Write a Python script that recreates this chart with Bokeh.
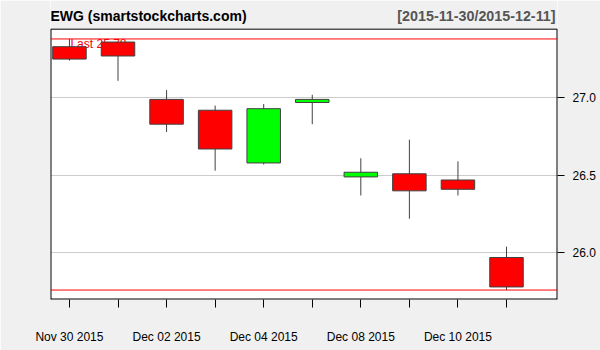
from bokeh.plotting import figure
from bokeh.models import (Range1d, LinearAxis, FixedTicker, Span, ColumnDataSource,
                          PrintfTickFormatter, Grid)
from bokeh.core.properties import value
from bokeh.embed import file_html
from bokeh.resources import INLINE

# ---- data ----
dates = ["2015-11-30", "2015-12-01", "2015-12-02", "2015-12-03", "2015-12-04",
         "2015-12-07", "2015-12-08", "2015-12-09", "2015-12-10", "2015-12-11"]
opens = [27.33, 27.36, 26.99, 26.92, 26.58, 26.97, 26.49, 26.51, 26.47, 25.97]
highs = [27.38, 27.36, 27.05, 26.95, 26.96, 27.02, 26.61, 26.73, 26.59, 26.04]
lows = [27.24, 27.11, 26.78, 26.53, 26.57, 26.83, 26.37, 26.22, 26.37, 25.76]
closes = [27.25, 27.27, 26.83, 26.67, 26.93, 26.99, 26.52, 26.40, 26.41, 25.78]
x_tick_labels = {0: "Nov 30 2015", 2: "Dec 02 2015", 4: "Dec 04 2015",
                 6: "Dec 08 2015", 8: "Dec 10 2015"}
y_ticks = [26.0, 26.5, 27.0]
title_left = "EWG (smartstockcharts.com)"
title_right = "[2015-11-30/2015-12-11]"

FONT = "Liberation Sans"
BG = "#F0F0F0"
x_start, x_end = -0.39, 10.05
y_start = 25.699          # bottom of the price box
y_box_top = 27.443        # top of the price box
y_frame_top = 27.628      # top of the drawing area (title band above the box)
y_title = 27.528          # vertical middle of the title texts

idx = list(range(len(dates)))
up = [c >= o for o, c in zip(opens, closes)]
src = ColumnDataSource(dict(
    x=idx,
    top=[max(o, c) for o, c in zip(opens, closes)],
    bottom=[min(o, c) for o, c in zip(opens, closes)],
    high=highs, low=lows,
    color=["#00FF00" if u else "#FF0000" for u in up],
))

p = figure(width=600, height=350, output_backend="svg", toolbar_location=None,
           x_range=Range1d(x_start, x_end), y_range=Range1d(y_start, y_frame_top),
           x_axis_location=None, y_axis_location=None,
           min_border_left=50, min_border_right=43, min_border_top=0, min_border_bottom=51)
p.border_fill_color = BG
p.background_fill_color = "white"
p.outline_line_color = None
p.xgrid.visible = False
p.ygrid.visible = False

# bottom axis
xa = LinearAxis(ticker=FixedTicker(ticks=idx),
                major_label_overrides={i: x_tick_labels.get(i, "") for i in idx})
xa.axis_line_color = None
xa.major_tick_out = 8
xa.major_tick_in = 0
xa.minor_tick_out = 0
xa.minor_tick_in = 0
xa.major_tick_line_color = "black"
xa.major_label_standoff = 22
xa.major_label_text_font = FONT
xa.major_label_text_font_size = "12px"
xa.major_label_text_color = "black"
p.add_layout(xa, "below")

# right axis
ya = LinearAxis(ticker=FixedTicker(ticks=y_ticks), formatter=PrintfTickFormatter(format="%.1f"))
ya.axis_line_color = None
ya.major_tick_out = 7
ya.major_tick_in = 0
ya.minor_tick_out = 0
ya.minor_tick_in = 0
ya.major_tick_line_color = "black"
ya.major_label_standoff = 8
ya.major_label_text_font = FONT
ya.major_label_text_font_size = "12px"
ya.major_label_text_color = "black"
p.add_layout(ya, "right")

# horizontal grid lines
g = Grid(dimension=1, ticker=FixedTicker(ticks=y_ticks), grid_line_color="#CCCCCC")
p.add_layout(g)

# title band above the price box
p.quad(left=[x_start], right=[x_end], bottom=[y_box_top], top=[y_frame_top],
       fill_color=BG, line_color=None)

# box border: left, right, bottom sit on the frame edge (half clipped -> width 2)
p.segment(x0=[x_start, x_end, x_start, x_start], y0=[y_start, y_start, y_start, y_box_top],
          x1=[x_start, x_end, x_end, x_end], y1=[y_box_top, y_box_top, y_start, y_box_top],
          line_color="black", line_width=[2, 2, 2, 1])

# titles
p.text(x=[x_start], y=[y_title], text=[title_left], text_font=value(FONT),
       text_font_size="14px", text_font_style="bold", text_color="black",
       text_align="left", text_baseline="middle")
p.text(x=[x_end], y=[y_title], text=[title_right], text_font=value(FONT),
       text_font_size="14.3px", text_font_style="bold", text_color="#555555",
       text_align="right", text_baseline="middle", x_offset=-2)

# last price text (drawn under candles)
p.text(x=[0], y=[max(highs)], text=["Last %.2f" % closes[-1]], text_font=value(FONT),
       text_font_size="12px", text_color="#FF0000", text_baseline="top", text_align="left",
       x_offset=1, y_offset=-2)

# candles
p.segment(x0="x", y0="low", x1="x", y1="high", source=src, line_color="#404040", line_width=1)
p.vbar(x="x", width=0.69, top="top", bottom="bottom", source=src,
       fill_color="color", line_color="#404040", line_width=1)

# high / low lines
p.add_layout(Span(location=max(highs), dimension="width", line_color="#FF0000", line_width=1))
p.add_layout(Span(location=min(lows), dimension="width", line_color="#FF0000", line_width=1))

open("out.html", "w").write(file_html(p, INLINE))
